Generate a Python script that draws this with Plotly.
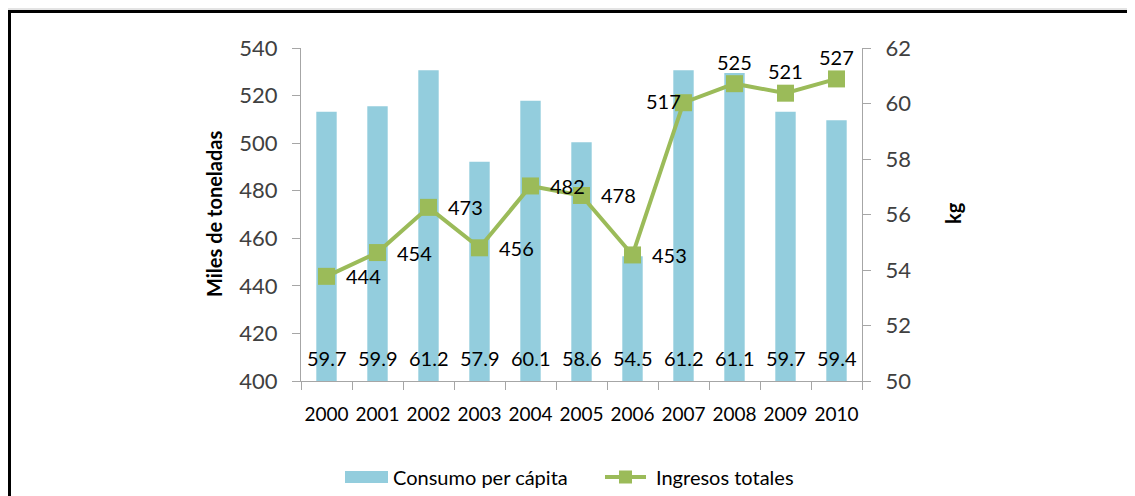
import plotly.graph_objects as go

years = ["2000", "2001", "2002", "2003", "2004", "2005", "2006", "2007", "2008", "2009", "2010"]
consumo_kg = [59.7, 59.9, 61.2, 57.9, 60.1, 58.6, 54.5, 61.2, 61.1, 59.7, 59.4]
ingresos_miles_t = [444, 454, 473, 456, 482, 478, 453, 517, 525, 521, 527]

# where each line label sits relative to its marker
label_pos = ["r", "r", "r", "r", "r", "r", "r", "l", "t", "t", "t"]

FONT = "Lato, Open Sans, sans-serif"
BAR_COLOR = "#93CDDD"
LINE_COLOR = "#9BBB59"
AXIS_COLOR = "#A6A6A6"

# the page body has an 8px margin, so the figure is drawn 8px smaller
OFF = 8
W, H = 1135 - OFF, 496 - OFF
ML, MR, MT, MB = 301 - OFF, 273, 48 - OFF, 115

fig = go.Figure()

# bars on the kg axis (right), line on the tonnes axis (left) so the line stays on top
fig.add_trace(go.Bar(
    x=years, y=consumo_kg, name="Consumo per cápita",
    marker=dict(color=BAR_COLOR, line=dict(width=0)),
    yaxis="y",
))
fig.add_trace(go.Scatter(
    x=years, y=ingresos_miles_t, name="Ingresos totales",
    mode="lines+markers", yaxis="y2",
    line=dict(color=LINE_COLOR, width=4),
    marker=dict(symbol="square", size=17, color=LINE_COLOR),
))

annotations = []
for i, v in enumerate(consumo_kg):
    annotations.append(dict(
        x=i, y=50, xref="x", yref="y", text=f"{v:.1f}", showarrow=False,
        yshift=23, font=dict(family=FONT, size=20, color="#000000"),
    ))
for i, (v, p) in enumerate(zip(ingresos_miles_t, label_pos)):
    xs, ys = {"r": (37, 0), "l": (-20, 2), "t": (0, 22)}[p]
    annotations.append(dict(
        x=i, y=v, xref="x", yref="y2", text=str(v), showarrow=False,
        xshift=xs, yshift=ys, font=dict(family=FONT, size=20, color="#000000"),
    ))

# helpers to place decorations by page pixel
PW = W - ML - MR
PH = H - MT - MB
def px_x(px):
    return (px - OFF - ML) / PW
def px_y(py):
    return (H - MB - (py - OFF)) / PH

annotations.append(dict(
    x=px_x(214), y=px_y(214), xref="paper", yref="paper", text="<b>Miles de toneladas</b>",
    xanchor="center", yanchor="middle",
    textangle=-90, showarrow=False, font=dict(family=FONT, size=20, color="#000000"),
))
annotations.append(dict(
    x=px_x(953), y=px_y(213), xref="paper", yref="paper", text="<b>kg</b>",
    xanchor="center", yanchor="middle",
    textangle=-90, showarrow=False, font=dict(family=FONT, size=20, color="#000000"),
))

# hand-drawn legend (wide swatch like the original)
annotations.append(dict(
    x=px_x(391), y=px_y(477), xref="paper", yref="paper", xanchor="left", yanchor="middle",
    text="Consumo per cápita", showarrow=False,
    font=dict(family=FONT, size=20, color="#000000"),
))
annotations.append(dict(
    x=px_x(654), y=px_y(477), xref="paper", yref="paper", xanchor="left", yanchor="middle",
    text="Ingresos totales", showarrow=False,
    font=dict(family=FONT, size=20, color="#000000"),
))

shapes = [
    dict(type="rect", xref="paper", yref="paper", x0=px_x(9.5), x1=px_x(1200),
         y0=px_y(560), y1=px_y(11.5), line=dict(color="#000000", width=3)),
    dict(type="line", xref="paper", yref="paper", x0=px_x(0), x1=px_x(1200),
         y0=px_y(9), y1=px_y(9), line=dict(color="#C8C8C8", width=1)),
    dict(type="rect", xref="paper", yref="paper", x0=px_x(345), x1=px_x(388),
         y0=px_y(483), y1=px_y(471), fillcolor=BAR_COLOR, line=dict(width=0)),
    dict(type="line", xref="paper", yref="paper", x0=px_x(605), x1=px_x(646),
         y0=px_y(477), y1=px_y(477), line=dict(color=LINE_COLOR, width=4)),
    dict(type="rect", xref="paper", yref="paper", x0=px_x(619), x1=px_x(632),
         y0=px_y(483.5), y1=px_y(470.5), fillcolor=LINE_COLOR, line=dict(width=0)),
]

fig.update_layout(
    width=W, height=H,
    margin=dict(l=ML, r=MR, t=MT, b=MB, autoexpand=False),
    paper_bgcolor="white", plot_bgcolor="white",
    font=dict(family=FONT, size=20, color="#404040"),
    bargap=0.6,
    showlegend=False,
    xaxis=dict(
        type="category", range=[-0.5, len(years) - 0.5],
        showline=True, linecolor=AXIS_COLOR, linewidth=1,
        ticks="outside", ticklen=8, tickcolor=AXIS_COLOR, tickson="boundaries",
        tickfont=dict(family=FONT, size=19, color="#000000"), showgrid=False,
        automargin=False, tickangle=0, ticklabelstandoff=16,
    ),
    yaxis=dict(
        side="right", range=[50, 62], dtick=2,
        showline=True, linecolor=AXIS_COLOR, linewidth=1,
        ticks="outside", ticklen=8, tickcolor=AXIS_COLOR,
        tickfont=dict(family=FONT, size=22, color="#404040"),
        ticklabelstandoff=10, showgrid=False, zeroline=False, automargin=False,
    ),
    yaxis2=dict(
        side="left", overlaying="y", range=[400, 540], dtick=20,
        showline=True, linecolor=AXIS_COLOR, linewidth=1,
        ticks="outside", ticklen=8, tickcolor=AXIS_COLOR,
        tickfont=dict(family=FONT, size=22, color="#404040"),
        ticklabelstandoff=10, showgrid=False, zeroline=False, automargin=False,
    ),
    annotations=annotations,
    shapes=shapes,
)

fig.write_html("out.html")
